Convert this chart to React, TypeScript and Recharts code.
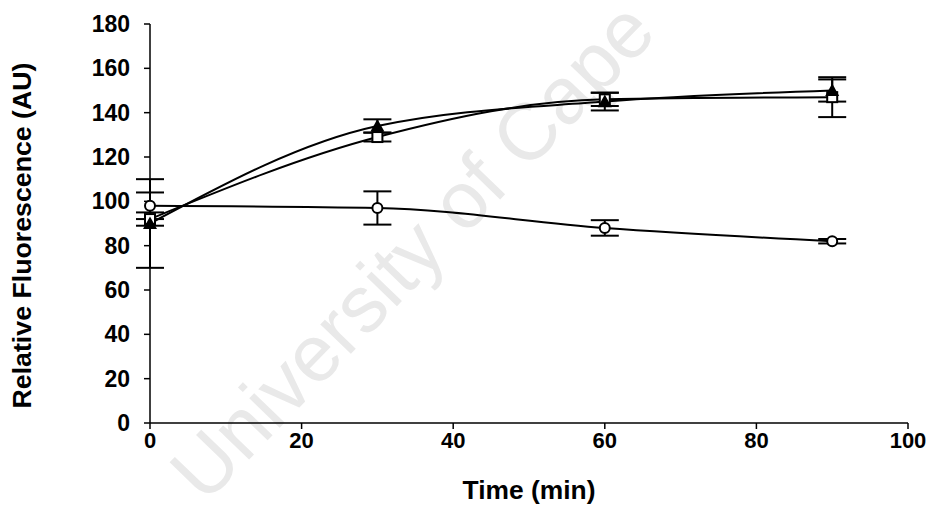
import React from "react";
import { LineChart, Line, XAxis, YAxis, ErrorBar } from "recharts";

const times = [0, 30, 60, 90];
const filledTriangle = [90, 134, 145, 150];
const filledTriangleErr = [20, 3, 4, 5];
const openSquare = [92, 129, 146, 147];
const openSquareErr = [3, 2, 3, 9];
const openCircle = [98, 97, 88, 82];
const openCircleErr = [6, 7.5, 3.5, 1];

const xTicks = [0, 20, 40, 60, 80, 100];
const yTicks = [0, 20, 40, 60, 80, 100, 120, 140, 160, 180];

const chartData = times.map((t, i) => ({
  time: t,
  tri: filledTriangle[i],
  triErr: filledTriangleErr[i],
  sq: openSquare[i],
  sqErr: openSquareErr[i],
  circ: openCircle[i],
  circErr: openCircleErr[i],
}));

const font = "'Liberation Sans', Arial, sans-serif";

const TriangleDot = (props: any) => {
  const { cx, cy, index } = props;
  if (cx == null || cy == null) return <g key={index} />;
  const s = 7;
  return (
    <path
      key={index}
      d={`M${cx},${cy - s} L${cx + s},${cy + s * 0.8} L${cx - s},${cy + s * 0.8} Z`}
      fill="#000"
    />
  );
};

const SquareDot = (props: any) => {
  const { cx, cy, index } = props;
  if (cx == null || cy == null) return <g key={index} />;
  return (
    <rect key={index} x={cx - 5} y={cy - 5} width={10} height={10} fill="#fff" stroke="#000" strokeWidth={2} />
  );
};

const CircleDot = (props: any) => {
  const { cx, cy, index } = props;
  if (cx == null || cy == null) return <g key={index} />;
  return <circle key={index} cx={cx} cy={cy} r={5} fill="#fff" stroke="#000" strokeWidth={2} />;
};

// title stretched along its length like the scanned original
const YTitle = (props: any) => {
  const vb = props.viewBox || {};
  const cy = (vb.y ?? 0) + (vb.height ?? 0) / 2 + 12;
  return (
    <text
      x={22}
      y={cy}
      transform={`rotate(-90, 22, ${cy})`}
      textAnchor="middle"
      dominantBaseline="central"
      fontFamily={font}
      fontWeight="bold"
      fontSize={25}
      textLength={346}
      lengthAdjust="spacingAndGlyphs"
      fill="#000"
    >
      Relative Fluorescence (AU)
    </text>
  );
};

const XTitle = (props: any) => {
  const vb = props.viewBox || {};
  const cx = (vb.x ?? 0) + (vb.width ?? 0) / 2;
  return (
    <text
      x={cx}
      y={499}
      textAnchor="middle"
      fontFamily={font}
      fontWeight="bold"
      fontSize={25}
      textLength={133}
      lengthAdjust="spacingAndGlyphs"
      fill="#000"
    >
      Time (min)
    </text>
  );
};

export default function App() {
  return (
    <div style={{ position: "absolute", left: 0, top: 0, width: 937, height: 521, overflow: "hidden", background: "#fff" }}>
      <svg width={937} height={521} style={{ position: "absolute", left: 0, top: 0 }}>
        <text
          x={205}
          y={505}
          transform="rotate(-46, 205, 505)"
          fontFamily={font}
          fontSize={80}
          fill="#e9e9e9"
        >
          University of Cape
        </text>
      </svg>
      <div style={{ position: "absolute", left: 0, top: 0 }}>
        <LineChart width={937} height={521} data={chartData} margin={{ top: 24, right: 29, bottom: 0, left: 0 }}>
          <XAxis
            dataKey="time"
            type="number"
            domain={[0, 100]}
            ticks={xTicks}
            height={98}
            tickSize={6}
            tickMargin={3}
            axisLine={{ stroke: "#000", strokeWidth: 1.5 }}
            tickLine={{ stroke: "#000", strokeWidth: 1.5 }}
            tick={{ fill: "#000", fontSize: 22, fontWeight: "bold", fontFamily: font }}
            label={<XTitle />}
          />
          <YAxis
            type="number"
            domain={[0, 180]}
            ticks={yTicks}
            width={150}
            tickSize={6}
            tickMargin={14}
            axisLine={{ stroke: "#000", strokeWidth: 1.5 }}
            tickLine={{ stroke: "#000", strokeWidth: 1.5 }}
            tick={{ fill: "#000", fontSize: 23, fontWeight: "bold", fontFamily: font }}
            label={<YTitle />}
          />
          <Line
            dataKey="circ"
            type="monotone"
            stroke="#000"
            strokeWidth={2}
            dot={CircleDot}
            activeDot={false}
            isAnimationActive={false}
          >
            <ErrorBar dataKey="circErr" width={14} stroke="#000" strokeWidth={2} direction="y" />
          </Line>
          <Line
            dataKey="sq"
            type="monotone"
            stroke="#000"
            strokeWidth={2}
            dot={SquareDot}
            activeDot={false}
            isAnimationActive={false}
          >
            <ErrorBar dataKey="sqErr" width={14} stroke="#000" strokeWidth={2} direction="y" />
          </Line>
          <Line
            dataKey="tri"
            type="monotone"
            stroke="#000"
            strokeWidth={2}
            dot={TriangleDot}
            activeDot={false}
            isAnimationActive={false}
          >
            <ErrorBar dataKey="triErr" width={14} stroke="#000" strokeWidth={2} direction="y" />
          </Line>
        </LineChart>
      </div>
    </div>
  );
}
